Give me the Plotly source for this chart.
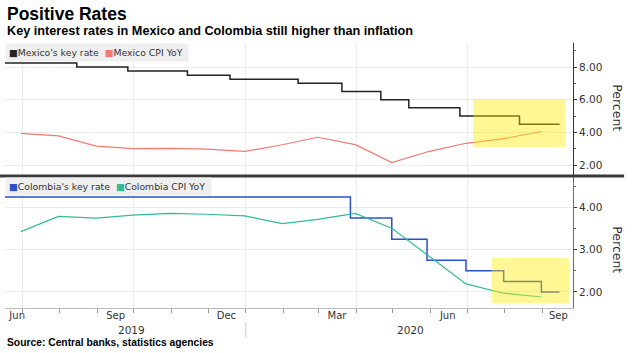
import plotly.graph_objects as go

# ---------------- data ----------------
mx_rate_dates = ["2019-06-01", "2019-08-15", "2019-09-26", "2019-11-14", "2019-12-19",
                 "2020-02-13", "2020-03-20", "2020-04-21", "2020-05-14", "2020-06-25",
                 "2020-08-13", "2020-09-15"]
mx_rate = [8.25, 8.00, 7.75, 7.50, 7.25, 7.00, 6.50, 6.00, 5.50, 5.00, 4.50, 4.50]

cpi_dates = ["2019-06-30", "2019-07-31", "2019-08-31", "2019-09-30", "2019-10-31",
             "2019-11-30", "2019-12-31", "2020-01-31", "2020-02-29", "2020-03-31",
             "2020-04-30", "2020-05-31", "2020-06-30", "2020-07-31", "2020-08-31"]
mx_cpi = [3.94, 3.78, 3.16, 3.00, 3.02, 2.97, 2.83, 3.24, 3.70, 3.25, 2.15, 2.84, 3.33, 3.62, 4.05]

co_rate_dates = ["2019-06-01", "2020-03-27", "2020-04-30", "2020-05-29", "2020-06-30",
                 "2020-07-31", "2020-08-31", "2020-09-15"]
co_rate = [4.25, 3.75, 3.25, 2.75, 2.50, 2.25, 2.00, 2.00]

co_cpi = [3.43, 3.79, 3.75, 3.82, 3.86, 3.84, 3.80, 3.62, 3.72, 3.86, 3.51, 2.85, 2.19, 1.97, 1.88]

x_range = ["2019-06-17", "2020-09-26"]
grid_dates = ["2019-07-01", "2019-10-01", "2020-01-01", "2020-04-01", "2020-07-01"]
month_starts = ["2019-07-01", "2019-08-01", "2019-09-01", "2019-10-01", "2019-11-01", "2019-12-01",
                "2020-01-01", "2020-02-01", "2020-03-01", "2020-04-01", "2020-05-01", "2020-06-01",
                "2020-07-01", "2020-08-01", "2020-09-01"]
label_dates = ["2019-06-27", "2019-09-16", "2019-12-16", "2020-03-16", "2020-06-15", "2020-09-14"]
label_text = ["Jun", "Sep", "Dec", "Mar", "Jun", "Sep"]
year_dates = ["2019-09-29", "2020-05-15"]
year_text = ["2019", "2020"]

# highlight boxes: (x0, x1, y0, y1)
hl_top = ("2020-07-06", "2020-09-20", 3.10, 6.04)
hl_bot = ("2020-07-21", "2020-09-23", 1.73, 2.81)

C_MX_RATE = "#222222"
C_MX_CPI = "#f07b73"
C_CO_RATE = "#2a4fcf"
C_CO_CPI = "#2ebd98"
AX_FONT = "DejaVu Sans"
TXT = "#333333"

fig = go.Figure()
fig.add_trace(go.Scatter(x=mx_rate_dates, y=mx_rate, mode="lines", line=dict(color=C_MX_RATE, width=1.5, shape="hv"),
                         xaxis="x", yaxis="y", showlegend=False, hoverinfo="skip"))
fig.add_trace(go.Scatter(x=cpi_dates, y=mx_cpi, mode="lines", line=dict(color=C_MX_CPI, width=1.2),
                         xaxis="x", yaxis="y", showlegend=False, hoverinfo="skip"))
fig.add_trace(go.Scatter(x=co_rate_dates, y=co_rate, mode="lines", line=dict(color=C_CO_RATE, width=1.5, shape="hv"),
                         xaxis="x2", yaxis="y2", showlegend=False, hoverinfo="skip"))
fig.add_trace(go.Scatter(x=cpi_dates, y=co_cpi, mode="lines", line=dict(color=C_CO_CPI, width=1.2),
                         xaxis="x2", yaxis="y2", showlegend=False, hoverinfo="skip"))
fig.add_trace(go.Scatter(x=[None], y=[None], xaxis="x3", yaxis="y2", showlegend=False, hoverinfo="skip"))

grid_c = "#ebebeb"
fig.update_layout(
    width=633, height=353,
    margin=dict(l=5, r=60, t=43, b=45),
    paper_bgcolor="white", plot_bgcolor="white",
    showlegend=False,
    xaxis=dict(domain=[0, 1], anchor="y", type="date", range=x_range,
               tickvals=grid_dates, showticklabels=False, ticks="",
               showgrid=True, gridcolor=grid_c, gridwidth=1, zeroline=False),
    yaxis=dict(domain=[0.502, 1], anchor="x", side="right", range=[1.39, 9.47],
               tickvals=[2, 4, 6, 8], tickformat=".2f", showgrid=True, gridcolor=grid_c,
               ticks="outside", ticklen=3, tickcolor=TXT, showline=True, linecolor="#333333", linewidth=1,
               minor=dict(tickvals=[3, 5, 7, 9], ticks="outside", ticklen=2, tickcolor="#666", showgrid=False),
               tickfont=dict(family=AX_FONT, size=10.5, color=TXT), zeroline=False),
    xaxis2=dict(domain=[0, 1], anchor="y2", type="date", range=x_range, matches="x",
                tickvals=grid_dates, showticklabels=False, ticks="outside", ticklen=4, tickcolor="#999",
                showgrid=True, gridcolor=grid_c, showline=True, linecolor="#bbbbbb", linewidth=1,
                minor=dict(tickvals=month_starts, ticks="outside", ticklen=4, tickcolor="#999", showgrid=False),
                zeroline=False),
    xaxis3=dict(overlaying="x2", anchor="y2", type="date", range=x_range, side="bottom",
                tickvals=label_dates, ticktext=label_text, ticks="", showgrid=False, showline=False,
                tickfont=dict(family=AX_FONT, size=10, color=TXT), zeroline=False),
    yaxis2=dict(domain=[0, 0.494], anchor="x2", side="right", range=[1.62, 4.72],
                tickvals=[2, 3, 4], tickformat=".2f", showgrid=True, gridcolor=grid_c,
                ticks="outside", ticklen=3, tickcolor=TXT, showline=True, linecolor="#4a6ad6", linewidth=1,
                minor=dict(tickvals=[2.5, 3.5, 4.5], ticks="outside", ticklen=2, tickcolor="#666", showgrid=False),
                tickfont=dict(family=AX_FONT, size=10.5, color=TXT), zeroline=False),
)

# highlight boxes
for (x0, x1, y0, y1), xr, yr in [(hl_top, "x", "y"), (hl_bot, "x2", "y2")]:
    fig.add_shape(type="rect", xref=xr, yref=yr, x0=x0, x1=x1, y0=y0, y1=y1,
                  fillcolor="rgba(255,235,0,0.42)", line=dict(width=0), layer="above")

# panel separator
fig.add_shape(type="line", xref="paper", yref="paper", x0=-0.009, x1=1.09, y0=0.498, y1=0.498,
              line=dict(color="#3a3a3a", width=3), layer="above")
# year divider
fig.add_shape(type="line", xref="x2", yref="paper", x0="2020-01-01", x1="2020-01-01", y0=-0.053, y1=-0.11,
              line=dict(color="#cccccc", width=1))

# year labels
for d, t in zip(year_dates, year_text):
    fig.add_annotation(x=d, xref="x2", y=-0.083, yref="paper", text=t, showarrow=False,
                       font=dict(family=AX_FONT, size=10.5, color=TXT), yanchor="middle")

# legends
def sq(c):
    return '<span style="color:%s">■</span>' % c

fig.add_annotation(x=0, xref="paper", y=1.0, yref="paper", xanchor="left", yanchor="top",
                   text=sq(C_MX_RATE) + "Mexico's key rate  " + sq(C_MX_CPI) + "Mexico CPI YoY ",
                   showarrow=False, bgcolor="#efefef", borderpad=3,
                   font=dict(family=AX_FONT, size=9.3, color=TXT))
fig.add_annotation(x=0, xref="paper", y=0.494, yref="paper", xanchor="left", yanchor="top",
                   text=sq(C_CO_RATE) + "Colombia's key rate  " + sq(C_CO_CPI) + "Colombia CPI YoY ",
                   showarrow=False, bgcolor="#efefef", borderpad=3,
                   font=dict(family=AX_FONT, size=9.3, color=TXT))

# Percent labels
for yy in [0.755, 0.219]:
    fig.add_annotation(x=1.077, xref="paper", y=yy, yref="paper", text="Percent", textangle=90,
                       xanchor="center", yanchor="middle",
                       showarrow=False, font=dict(family=AX_FONT, size=12.5, color=TXT))

# titles and source
fig.add_annotation(x=0, xref="paper", y=1.109, yref="paper", xanchor="left", yanchor="middle",
                   text="<b>Positive Rates</b>", showarrow=False,
                   font=dict(family="Liberation Sans", size=17.5, color="#000"))
fig.add_annotation(x=0, xref="paper", y=1.045, yref="paper", xanchor="left", yanchor="middle",
                   text="<b>Key interest rates in Mexico and Colombia still higher than inflation</b>",
                   showarrow=False, font=dict(family="Liberation Sans", size=12.7, color="#000"))
fig.add_annotation(x=0, xref="paper", y=-0.132, yref="paper", xanchor="left", yanchor="middle",
                   text="<b>Source: Central banks, statistics agencies</b>", showarrow=False,
                   font=dict(family="Liberation Sans", size=10.3, color="#000"))

fig.write_html("out.html")
